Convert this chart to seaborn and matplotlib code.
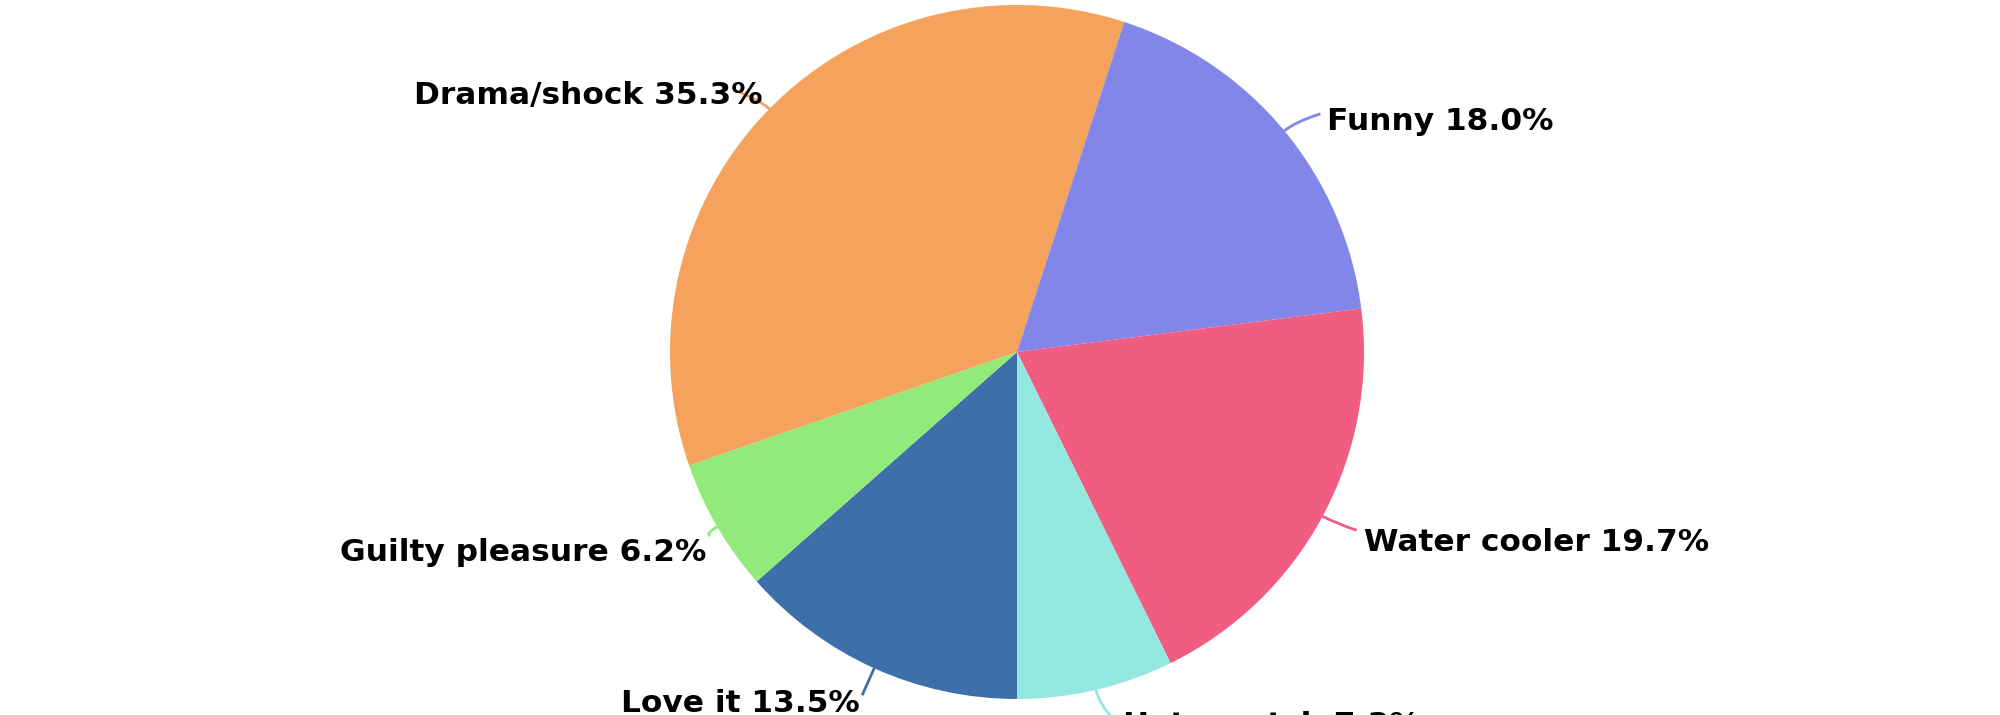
import numpy as np
import seaborn as sns
import matplotlib.pyplot as plt
from matplotlib.path import Path
from matplotlib.patches import PathPatch

# slices, clockwise starting from the bottom of the pie
labels = ["Love it", "Guilty pleasure", "Drama/shock", "Funny", "Water cooler", "Hate watch"]
shares = [13.5, 6.2, 35.3, 18.0, 19.7, 7.3]
colors = ["#3d6fa8", "#91ea7a", "#f5a35c", "#8286e8", "#f05d80", "#93e8e0"]

# where the label text sits relative to the slice edge (pixels, y up)
label_dx = [-14, -11, -7, 43, 41, 27]
label_dy = [-35, -26, 13, 9, -26, -36]
# where the leader line ends relative to the slice edge
line_dx = [-12, -7, -36, 36, 34, 18]
line_dy = [-27, -9, 19, 17, -14, -30]

sns.set_style("white")
plt.rcParams['font.family'] = ['DejaVu Sans']

W, H = 2000, 715
fig = plt.figure(figsize=(W / 100, H / 100), dpi=100)
ax = fig.add_axes([0, 0, 1, 1])

cx, cy, r = 1017, 363, 347
wedges, _ = ax.pie(shares, colors=colors, startangle=-90, counterclock=False,
                   center=(cx, cy), radius=r, frame=True,
                   wedgeprops=dict(linewidth=0))
ax.set_xlim(0, W)
ax.set_ylim(0, H)
ax.set_aspect('equal')
ax.axis('off')

for w, lab, val, col, dx, dy, lx, ly in zip(wedges, labels, shares, colors,
                                            label_dx, label_dy, line_dx, line_dy):
    mid = np.deg2rad((w.theta1 + w.theta2) / 2)
    x0, y0 = cx + r * np.cos(mid), cy + r * np.sin(mid)
    # curved leader line: out along the radius, then bend to the label
    x1, y1 = x0 + 14 * np.cos(mid), y0 + 14 * np.sin(mid)
    x2, y2 = x0 + lx, y0 + ly
    path = Path([(x0, y0), (x1, y1), (x2, y2)], [Path.MOVETO, Path.CURVE3, Path.CURVE3])
    ax.add_patch(PathPatch(path, facecolor='none', edgecolor=col, lw=2, clip_on=False))
    ha = 'left' if dx > 0 else 'right'
    ax.text(x0 + dx, y0 + dy, f"{lab} {val:.1f}%", ha=ha, va='center',
            fontsize=22.5, fontweight='bold', color='black')

fig.savefig("out.png", dpi=100)
